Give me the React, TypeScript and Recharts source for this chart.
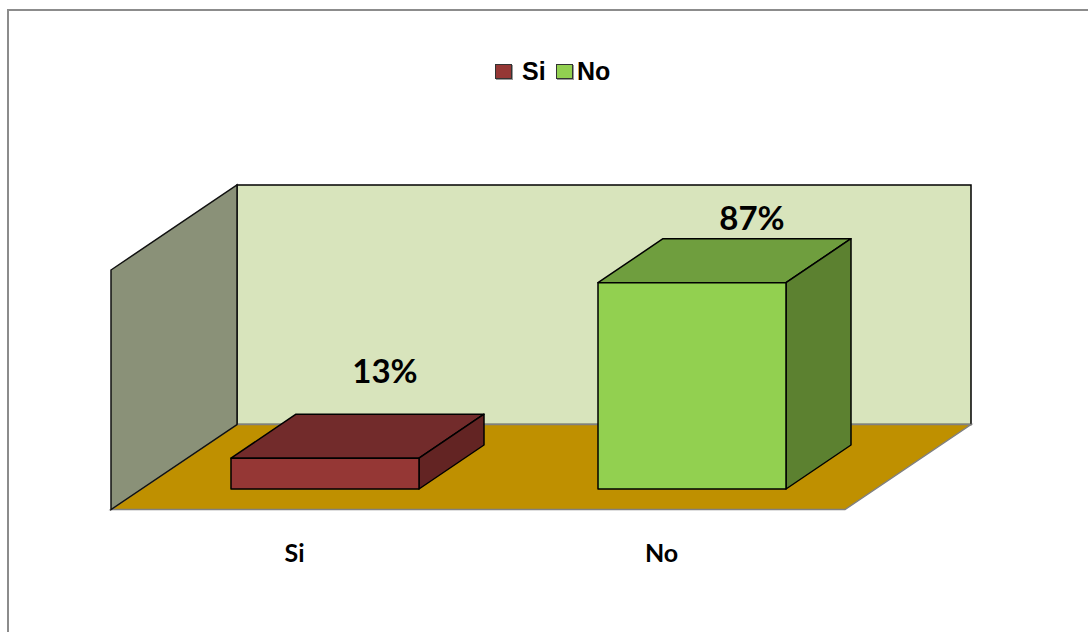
import { BarChart, Bar, XAxis, YAxis, Legend, LabelList, ReferenceArea } from 'recharts'

const categories = ['Si', 'No']
const percentages = [13, 87]
const frontColors = ['#953735', '#92d050']
const topColors = ['#722b2b', '#6f9e3e']
const sideColors = ['#632423', '#5c8130']

const data = categories.map((name, i) => ({ name, value: percentages[i] }))

const AXIS_MAX = 101

// depth of the room and of the boxes, in px
const ROOM_DX = 126
const ROOM_DY = -85
const BOX_DX = 65
const BOX_DY = -44
const SHIFT_X = 30
const SHIFT_Y = -20.5

const pts = (list: number[][]) => list.map((p) => p.join(',')).join(' ')

const Room = ({ x, y, width, height }: any) => {
  const bottom = y + height
  const right = x + width
  return (
    <g>
      <polygon
        points={pts([[x + ROOM_DX, y + ROOM_DY], [right + ROOM_DX, y + ROOM_DY], [right + ROOM_DX, bottom + ROOM_DY], [x + ROOM_DX, bottom + ROOM_DY]])}
        fill="#d8e4bc"
        stroke="#000"
        strokeWidth={1.5}
      />
      <polygon
        points={pts([[x, bottom], [right, bottom], [right + ROOM_DX, bottom + ROOM_DY], [x + ROOM_DX, bottom + ROOM_DY]])}
        fill="#bf9000"
        stroke="#808080"
        strokeWidth={1.5}
      />
      <polygon
        points={pts([[x, y], [x + ROOM_DX, y + ROOM_DY], [x + ROOM_DX, bottom + ROOM_DY], [x, bottom]])}
        fill="#8a9178"
        stroke="#111"
        strokeWidth={1.5}
      />
    </g>
  )
}

const Box = ({ x, y, width, height, index }: any) => {
  const left = x + SHIFT_X
  const right = left + width
  const top = y + SHIFT_Y
  const bottom = top + height
  const line = { stroke: '#000', strokeWidth: 1.5, strokeLinejoin: 'round' as const }
  return (
    <g>
      <polygon
        points={pts([[left, top], [right, top], [right + BOX_DX, top + BOX_DY], [left + BOX_DX, top + BOX_DY]])}
        fill={topColors[index]}
        {...line}
      />
      <polygon
        points={pts([[right, top], [right + BOX_DX, top + BOX_DY], [right + BOX_DX, bottom + BOX_DY], [right, bottom]])}
        fill={sideColors[index]}
        {...line}
      />
      <rect x={left} y={top} width={width} height={height} fill={frontColors[index]} {...line} />
    </g>
  )
}

// the two labels were placed by hand in the original, so they don't sit at the same height
const PercentLabel = ({ x, y, width, value, index }: any) => (
  <text
    x={x + width / 2 + SHIFT_X + 60}
    y={y + (index === 0 ? -96 : -73)}
    textAnchor="middle"
    fontFamily="Lato, sans-serif"
    fontWeight={700}
    fontSize={33}
    fill="#000"
  >
    {value}%
  </text>
)

const LegendRow = () => (
  <div style={{ position: 'relative', width: 130, height: 26, fontFamily: '"Liberation Sans", Arial, sans-serif', fontWeight: 700, fontSize: 25, color: '#000' }}>
    {categories.map((name, i) => (
      <span key={name} style={{ position: 'absolute', left: i === 0 ? 0 : 61, top: 0, display: 'flex', alignItems: 'center', lineHeight: '26px' }}>
        <span style={{ display: 'inline-block', boxSizing: 'border-box', width: 17, height: 15, marginRight: i === 0 ? 10 : 4, background: frontColors[i], border: '1px solid #333', boxShadow: '1px 1px 0 #999' }} />
        {name}
      </span>
    ))}
  </div>
)

export default function App() {
  return (
    <div style={{ position: 'absolute', left: 0, top: 0, width: 1088, height: 632, background: '#fff', overflow: 'hidden' }}>
      <div style={{ position: 'absolute', left: 7, top: 9, right: -4, bottom: -4, borderLeft: '2px solid #8c8c8c', borderTop: '2px solid #8c8c8c' }} />
      <BarChart
        width={1088}
        height={632}
        data={data}
        margin={{ top: 270, right: 243, bottom: 0, left: 111 }}
        barSize={188}
      >
        <ReferenceArea y1={0} y2={AXIS_MAX} shape={<Room />} ifOverflow="visible" />
        <XAxis
          dataKey="name"
          axisLine={false}
          tickLine={false}
          height={122.5}
          tickMargin={29}
          tick={{ fontFamily: 'Lato, sans-serif', fontWeight: 700, fontSize: 25, fill: '#000' }}
        />
        <YAxis hide domain={[0, AXIS_MAX]} width={0} />
        <Legend
          layout="horizontal"
          verticalAlign="middle"
          content={<LegendRow />}
          wrapperStyle={{ position: 'absolute', left: 495, top: 58, width: 130, height: 26 }}
        />
        <Bar dataKey="value" isAnimationActive={false} shape={<Box />}>
          <LabelList dataKey="value" content={<PercentLabel />} />
        </Bar>
      </BarChart>
    </div>
  )
}
